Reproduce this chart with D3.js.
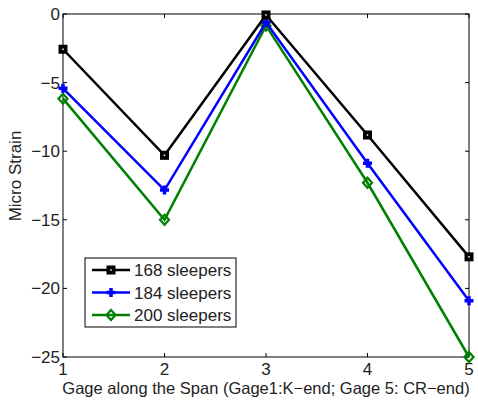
<!DOCTYPE html>
<html>
<head>
<meta charset="utf-8">
<script src="https://cdn.jsdelivr.net/npm/d3@7"></script>
<style>
  body { margin: 0; background: #fff; }
  text { font-family: "Liberation Sans", Arial, sans-serif; fill: #222; }
</style>
</head>
<body>
<div id="chart"></div>
<script>
var gages = [1, 2, 3, 4, 5],
    s168 = [-2.57, -10.3, -0.07, -8.82, -17.7],
    s184 = [-5.42, -12.83, -0.6, -10.88, -20.9],
    s200 = [-6.17, -15.0, -0.85, -12.3, -25.0],
    seriesNames = ['168 sleepers', '184 sleepers', '200 sleepers'],
    seriesColors = ['#000000', '#0000ff', '#008000'],
    yTicks = [0, -5, -10, -15, -20, -25];

var series = [s168, s184, s200];

var width = 478, height = 401,
    pLeft = 63, pRight = 469, pTop = 14, pBottom = 357,
    fs = 17;

var svg = d3.select('#chart').append('svg')
    .attr('width', width)
    .attr('height', height);

var x = d3.scaleLinear().domain([1, 5]).range([pLeft, pRight]);
var y = d3.scaleLinear().domain([-25, 0]).range([pBottom, pTop]);

// box
svg.append('rect')
    .attr('x', pLeft).attr('y', pTop)
    .attr('width', pRight - pLeft).attr('height', pBottom - pTop)
    .attr('fill', 'none').attr('stroke', '#000').attr('stroke-width', 1);

// ticks (inward, all four sides)
var tk = 4;
gages.forEach(function(g) {
    svg.append('line').attr('x1', x(g)).attr('x2', x(g)).attr('y1', pBottom).attr('y2', pBottom - tk).attr('stroke', '#000');
    svg.append('line').attr('x1', x(g)).attr('x2', x(g)).attr('y1', pTop).attr('y2', pTop + tk).attr('stroke', '#000');
    svg.append('text').attr('x', x(g)).attr('y', 375).attr('text-anchor', 'middle')
        .attr('font-size', fs).text(g);
});
yTicks.forEach(function(v) {
    svg.append('line').attr('x1', pLeft).attr('x2', pLeft + tk).attr('y1', y(v)).attr('y2', y(v)).attr('stroke', '#000');
    svg.append('line').attr('x1', pRight).attr('x2', pRight - tk).attr('y1', y(v)).attr('y2', y(v)).attr('stroke', '#000');
    svg.append('text').attr('x', 60).attr('y', y(v) + 6).attr('text-anchor', 'end')
        .attr('font-size', fs).text(v < 0 ? '\u2212' + Math.abs(v) : v);
});

// axis labels
svg.append('text').attr('x', 266).attr('y', 394).attr('text-anchor', 'middle')
    .attr('font-size', 16.5).text('Gage along the Span (Gage1:K\u2212end; Gage 5: CR\u2212end)');
svg.append('text').attr('transform', 'translate(21,176) rotate(-90)')
    .attr('text-anchor', 'middle').attr('font-size', fs).text('Micro Strain');

var line = d3.line()
    .x(function(d, i) { return x(gages[i]); })
    .y(function(d) { return y(d); });

function marker(g, k, cx, cy) {
    var c = seriesColors[k];
    if (k === 0) {
        g.append('rect').attr('x', cx - 4.5).attr('y', cy - 4.5).attr('width', 9).attr('height', 9)
            .attr('fill', c);
        g.append('rect').attr('x', cx - 0.75).attr('y', cy - 0.75).attr('width', 1.5).attr('height', 1.5)
            .attr('fill', '#fff');
    } else if (k === 1) {
        g.append('path').attr('d', 'M' + (cx - 4.5) + ',' + cy + 'H' + (cx + 4.5) + 'M' + cx + ',' + (cy - 4.5) + 'V' + (cy + 4.5))
            .attr('stroke', c).attr('stroke-width', 3.5);
    } else {
        g.append('path').attr('d', 'M' + cx + ',' + (cy - 5) + 'L' + (cx + 4.5) + ',' + cy + 'L' + cx + ',' + (cy + 5) + 'L' + (cx - 4.5) + ',' + cy + 'Z')
            .attr('fill', 'none').attr('stroke', c).attr('stroke-width', 2.2);
    }
}

// draw series, 200 first so black ends on top
[2, 1, 0].forEach(function(k) {
    var g = svg.append('g');
    g.append('path').datum(series[k]).attr('d', line)
        .attr('fill', 'none').attr('stroke', seriesColors[k]).attr('stroke-width', 2.5)
        .attr('stroke-linejoin', 'miter');
    series[k].forEach(function(v, i) { marker(g, k, x(gages[i]), y(v)); });
});

// legend
var lg = svg.append('g');
lg.append('rect').attr('x', 85).attr('y', 258).attr('width', 151).attr('height', 69)
    .attr('fill', '#fff').attr('stroke', '#000').attr('stroke-width', 1);
seriesNames.forEach(function(name, k) {
    var ly = 270 + k * 22.5;
    lg.append('line').attr('x1', 92).attr('x2', 130).attr('y1', ly).attr('y2', ly)
        .attr('stroke', seriesColors[k]).attr('stroke-width', 2.5);
    marker(lg, k, 111, ly);
    lg.append('text').attr('x', 134).attr('y', ly + 6).attr('font-size', fs).text(name);
});
</script>
</body>
</html>
